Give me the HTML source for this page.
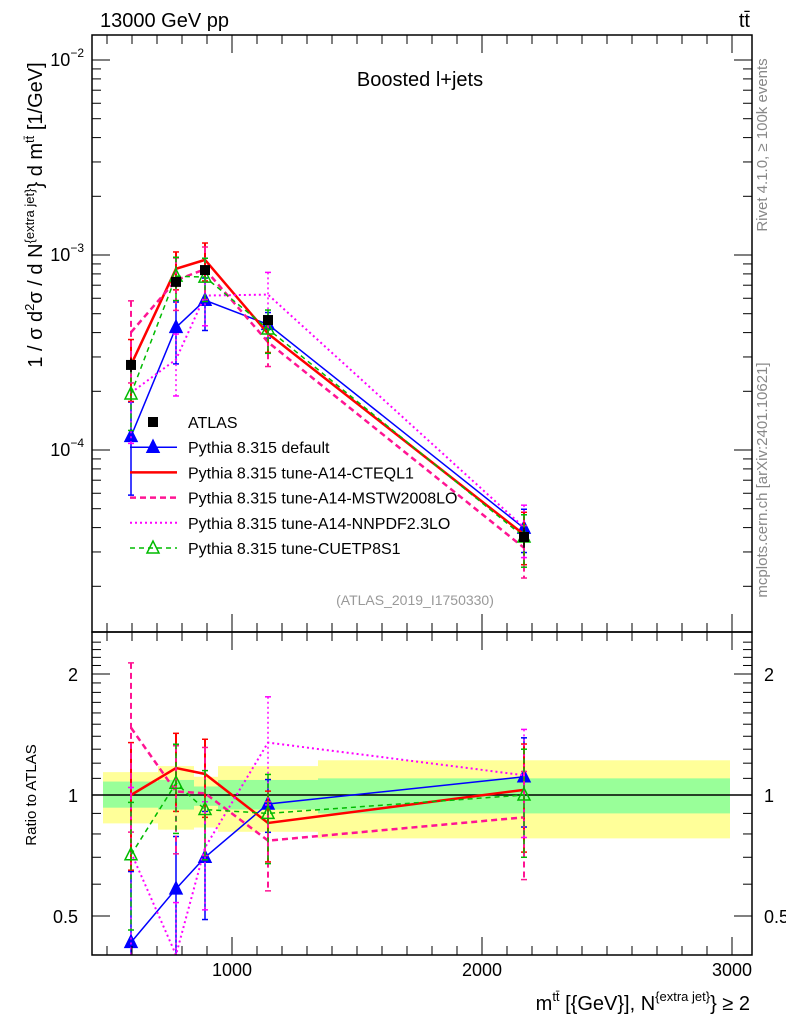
<!DOCTYPE html>
<html><head><meta charset="utf-8"><style>
html,body{margin:0;padding:0;background:#fff;}
svg{display:block;font-family:"Liberation Sans",sans-serif;}
</style></head><body>
<svg id="chart" width="786" height="1024" viewBox="0 0 786 1024" xmlns="http://www.w3.org/2000/svg">
<text x="100" y="27" font-size="20">13000 GeV pp</text>
<text x="750" y="27" font-size="20" text-anchor="end">tt̄</text>
<text x="420" y="86" font-size="20" text-anchor="middle">Boosted l+jets</text>
<text x="415" y="605" font-size="14" fill="#999" text-anchor="middle">(ATLAS_2019_I1750330)</text>
<text transform="translate(767,145) rotate(-90)" font-size="15" fill="#888" text-anchor="middle">Rivet 4.1.0, ≥ 100k events</text>
<text transform="translate(767,480) rotate(-90)" font-size="15" fill="#888" text-anchor="middle">mcplots.cern.ch [arXiv:2401.10621]</text>
<text transform="translate(42,215) rotate(-90)" font-size="20" text-anchor="middle">1 / σ d<tspan font-size="13" dy="-8">2</tspan><tspan dy="8">σ / d N</tspan><tspan font-size="13" dy="-8">{extra jet}</tspan><tspan dy="8">} d m</tspan><tspan font-size="13" dy="-8">tt̄</tspan><tspan dy="8"> [1/GeV]</tspan></text>
<text transform="translate(36,795) rotate(-90)" font-size="15" text-anchor="middle">Ratio to ATLAS</text>
<text x="750" y="1010" font-size="20" text-anchor="end">m<tspan font-size="13" dy="-9">tt̄</tspan><tspan dy="9"> [{GeV}], N</tspan><tspan font-size="13" dy="-9">{extra jet}</tspan><tspan dy="9">} ≥ 2</tspan></text>
<g id="g"></g>
</svg>
<script>
const binLo=[484,704,848,944,1344];
const binHi=[704,848,944,1344,2992];
const xCenters=[596,776,892,1144,2168];
const atlas=[2.73e-4,7.28e-4,8.37e-4,4.64e-4,3.58e-5];
const atlasErr=[0.08,0.06,0.05,0.06,0.12];
const totHi=[1.14,1.18,1.11,1.18,1.22];
const totLo=[0.85,0.82,0.83,0.81,0.78];
const statHi=[1.08,1.09,1.05,1.09,1.10];
const statLo=[0.93,0.92,0.94,0.92,0.90];
const rDefault=[0.43,0.584,0.70,0.95,1.11];
const rCTEQ=[1.0,1.167,1.128,0.852,1.03];
const rMSTW=[1.47,1.02,1.01,0.77,0.88];
const rNNPDF=[0.72,0.40,0.74,1.35,1.12];
const rCUETP=[0.71,1.07,0.92,0.90,1.0];
const errDefault=[0.5,0.35,0.3,0.15,0.25];
const errCTEQ=[0.35,0.22,0.22,0.2,0.3];
const errMSTW=[0.45,0.3,0.3,0.25,0.3];
const errNNPDF=[0.45,0.35,0.3,0.3,0.3];
const errCUETP=[0.35,0.25,0.25,0.25,0.3];
const yTicks=[-2,-3,-4];
const rTicks=[2,1,0.5];
const xTicks=[1000,2000,3000];

const NS="http://www.w3.org/2000/svg";
const G=document.getElementById('g');
const L=92,R=752,T=35,B=632,B2=955;
const X=v=>232+(v-1000)*0.25;
const Y=v=>60-(Math.log10(v)+2)*195;
const RY=r=>795-402*Math.log10(r);
function el(tag,attrs,parent){const e=document.createElementNS(NS,tag);for(const k in attrs)e.setAttribute(k,attrs[k]);(parent||G).appendChild(e);return e;}
const clipT=el('clipPath',{id:'ct'});el('rect',{x:L,y:T,width:R-L,height:B-T},clipT);
const clipB=el('clipPath',{id:'cb'});el('rect',{x:L,y:B,width:R-L,height:B2-B},clipB);
const gT=el('g',{'clip-path':'url(#ct)'});
const gB=el('g',{'clip-path':'url(#cb)'});

// bands
for(let i=0;i<5;i++){
 const y=el('rect',{x:X(binLo[i]),y:RY(totHi[i]),width:X(binHi[i])-X(binLo[i]),height:RY(totLo[i])-RY(totHi[i]),fill:'#ffff99'},gB);
 
 const g2=el('rect',{x:X(binLo[i]),y:RY(statHi[i]),width:X(binHi[i])-X(binLo[i]),height:RY(statLo[i])-RY(statHi[i]),fill:'#99ff99'},gB);
 
}
el('line',{x1:L,x2:R,y1:RY(1),y2:RY(1),stroke:'#000','stroke-width':1.5},gB);

const series=[
 {n:'pythia-default',r:rDefault,e:errDefault,c:'#0000ff',w:1.5,d:'',m:'tri'},
 {n:'pythia-a14-cteql1',r:rCTEQ,e:errCTEQ,c:'#ff0000',w:2.5,d:'',m:''},
 {n:'pythia-a14-mstw2008lo',r:rMSTW,e:errMSTW,c:'#ff1493',w:2.5,d:'6,4',m:''},
 {n:'pythia-a14-nnpdf23lo',r:rNNPDF,e:errNNPDF,c:'#ff00ff',w:2,d:'2,3',m:''},
 {n:'pythia-cuetp8s1',r:rCUETP,e:errCUETP,c:'#00bb00',w:1.5,d:'5,4',m:'otri'}
];
function tri(g,x,y,c,open){const p=el('polygon',{points:`${x},${y-7} ${x-6},${y+5} ${x+6},${y+5}`,fill:open?'none':c,stroke:c,'stroke-width':1.5},g);return p;}
for(const s of series){
 for(const panel of ['top','ratio']){
  const g=panel==='top'?gT:gB;
  const grp=el('g',{},g);
  
  
  const py=i=>panel==='top'?Y(s.r[i]*atlas[i]):RY(s.r[i]);
  const pts=xCenters.map((x,i)=>X(x)+','+py(i)).join(' ');
  el('polyline',{points:pts,fill:'none',stroke:s.c,'stroke-width':s.w,'stroke-dasharray':s.d},grp);
  xCenters.forEach((x,i)=>{
   const v=panel==='top'?s.r[i]*atlas[i]:s.r[i];
   const f=panel==='top'?Y:RY;
   const y1=f(v*(1+s.e[i])),y2=f(v*Math.max(0.05,1-s.e[i]));
   el('line',{x1:X(x),x2:X(x),y1:y1,y2:y2,stroke:s.c,'stroke-width':s.w>2?2:1.5,'stroke-dasharray':s.d},grp);
   el('line',{x1:X(x)-3,x2:X(x)+3,y1:y1,y2:y1,stroke:s.c,'stroke-width':1.5},grp);
   el('line',{x1:X(x)-3,x2:X(x)+3,y1:y2,y2:y2,stroke:s.c,'stroke-width':1.5},grp);
   if(s.m)tri(grp,X(x),py(i),s.c,s.m==='otri');
  });
 }
}
// ATLAS data
const ga=el('g',{},gT);
xCenters.forEach((x,i)=>{
 const y=Y(atlas[i]);
 el('line',{x1:X(x),x2:X(x),y1:Y(atlas[i]*(1+atlasErr[i])),y2:Y(atlas[i]*(1-atlasErr[i])),stroke:'#000','stroke-width':1.5},ga);
 const m=el('rect',{x:X(x)-5,y:y-5,width:10,height:10,fill:'#000'},ga);
 
});

// frames & ticks
for(const [t,b] of [[T,B],[B,B2]]){
 el('rect',{x:L,y:t,width:R-L,height:b-t,fill:'none',stroke:'#000','stroke-width':1.5});
 for(let v=500;v<=3000;v+=100){const x=X(v);if(x<L||x>R)continue;const len=v%1000===0?18:9;
  el('line',{x1:x,x2:x,y1:b,y2:b-len,stroke:'#000'});el('line',{x1:x,x2:x,y1:t,y2:t+len,stroke:'#000'});}
}
// top y ticks
for(let d=-5;d<=-2;d++){for(let k=1;k<10;k++){const y=Y(k*Math.pow(10,d));if(y<T||y>B)continue;const len=k===1?18:9;
 el('line',{x1:L,x2:L+len,y1:y,y2:y,stroke:'#000'});el('line',{x1:R,x2:R-len,y1:y,y2:y,stroke:'#000'});}}
yTicks.forEach(d=>{const t=el('text',{x:84,y:Y(Math.pow(10,d))+6,'font-size':18,'text-anchor':'end'});
 
 t.innerHTML='10<tspan font-size="12" dy="-9">−'+(-d)+'</tspan>';});
// ratio ticks
for(let r=0.4;r<=2.41;r+=0.1){const y=RY(r);if(y<B||y>B2)continue;const maj=[0.5,1,2].some(m=>Math.abs(m-r)<1e-6);const len=maj?18:9;
 el('line',{x1:L,x2:L+len,y1:y,y2:y,stroke:'#000'});el('line',{x1:R,x2:R-len,y1:y,y2:y,stroke:'#000'});}
rTicks.forEach(r=>{for(const [x,a] of [[78,'end'],[764,'start']]){const t=el('text',{x:x,y:RY(r)+7,'font-size':18,'text-anchor':a});t.textContent=String(r);
 }});
xTicks.forEach(v=>{const t=el('text',{x:X(v),y:976,'font-size':18,'text-anchor':'middle'});t.textContent=String(v);
 });

// legend
const leg=[['ATLAS','#000','','sq',1.5],['Pythia 8.315 default','#0000ff','','tri',1.5],['Pythia 8.315 tune-A14-CTEQL1','#ff0000','','',2.5],
['Pythia 8.315 tune-A14-MSTW2008LO','#ff1493','6,4','',2.5],['Pythia 8.315 tune-A14-NNPDF2.3LO','#ff00ff','2,3','',2],['Pythia 8.315 tune-CUETP8S1','#00bb00','5,4','otri',1.5]];
leg.forEach((l,i)=>{const y=422+i*25.2;const g=el('g',{});
 
 if(l[3]==='sq')el('rect',{x:148,y:y-5,width:10,height:10,fill:'#000'},g);
 else{el('line',{x1:130,x2:177,y1:y,y2:y,stroke:l[1],'stroke-width':l[4],'stroke-dasharray':l[2]},g);if(l[3])tri(g,153,y,l[1],l[3]==='otri');}
 const t=el('text',{x:188,y:y+6,'font-size':16},g);t.textContent=l[0];});
</script>
</body></html>
